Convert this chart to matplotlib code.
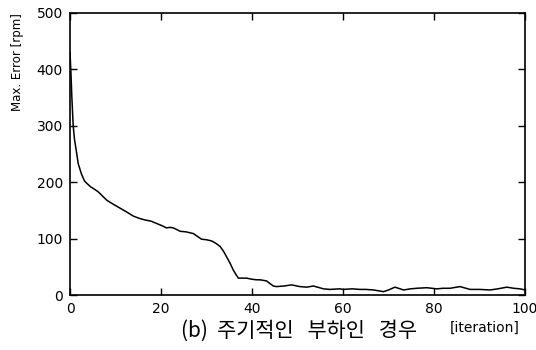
import matplotlib.pyplot as plt
import numpy as np

# max speed error per learning iteration (periodic load case)
iteration = [0, 0.2, 0.4, 0.7, 1.0, 1.4, 1.8, 2.5, 3.2, 3.7, 4.5, 5.3, 6.2, 7.2, 8.1,
             9.5, 11.0, 12.5, 13.9, 15.2, 16.5, 17.8, 19.0, 20.2, 21.2, 22.0, 22.7,
             23.5, 24.2, 25.5, 27.1, 28.0, 28.9, 30.0, 31.1, 32.0, 33.0, 33.7, 34.4,
             35.2, 35.9, 36.5, 37.0, 38.0, 38.8, 40.0, 41.0, 41.8, 43.2, 44.0, 44.7,
             45.4, 47.0, 48.7, 50.5, 52.0, 53.5, 55.7, 57.1, 59.3, 60.0, 62.0, 63.7,
             65.0, 66.7, 68.9, 70.0, 71.4, 73.3, 74.8, 76.2, 78.4, 80.6, 82.0, 83.5,
             85.7, 87.9, 90.0, 92.3, 94.0, 96.0, 97.5, 98.9, 100]
max_error = [430, 395, 352, 300, 275, 255, 233, 215, 202, 198, 192, 188, 183, 175, 168,
             161, 154, 147, 140, 136, 133, 131, 127, 123, 119, 120, 119,
             116, 113, 112, 109, 104, 99, 98, 96, 92, 86, 78, 68,
             56, 44, 36, 30, 30, 30, 28, 27, 27, 25, 20, 16,
             15, 16, 18, 15, 14, 16, 11, 10, 11, 10, 11, 10,
             10, 9, 6, 9, 14, 9, 11, 12, 13, 11, 12, 12,
             15, 10, 10, 9, 11, 14, 12, 11, 9]

x_ticks = [0, 20, 40, 60, 80, 100]
y_ticks = [0, 100, 200, 300, 400, 500]

plt.rcParams['font.family'] = ['DejaVu Sans']

fig = plt.figure(figsize=(5.36, 3.5), dpi=100)
ax = fig.add_axes([0.1306, 0.157, 0.849, 0.806])

ax.plot(iteration, max_error, color='black', linewidth=1.1)

ax.set_xlim(0, 100)
ax.set_ylim(0, 500)
ax.set_xticks(x_ticks)
ax.set_yticks(y_ticks)
ax.tick_params(direction='in', top=True, right=True, length=5, width=1,
               labelsize=10, pad=5)
for spine in ax.spines.values():
    spine.set_linewidth(1.2)

fig.text(0.032, 0.963, 'Max. Error [rpm]', rotation=90, ha='center', va='top',
         fontsize=8.5)
fig.text(0.558, 0.055, '(b)  주기적인   부하인   경우', ha='center', va='center',
         fontsize=15, family=['Noto Sans CJK KR', 'DejaVu Sans'])
fig.text(0.905, 0.063, '[iteration]', ha='center', va='center', fontsize=10)

plt.savefig('out.png', dpi=100)
